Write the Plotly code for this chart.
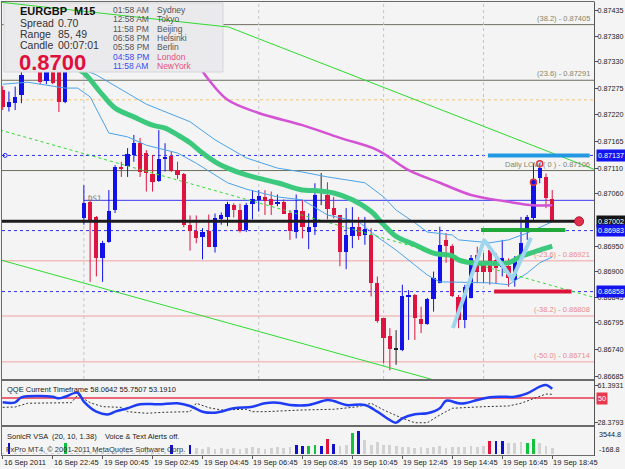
import plotly.graph_objects as go

W, H = 625, 469
FONT = "Liberation Sans"

# ---------------- price bars (EURGBP M15) ----------------
opens = [0.87271,0.87237,0.87244,0.87261,0.87316,0.87340,0.87330,0.87290,0.87318,0.87310,
         0.87247,0.87320,0.87325,0.87009,0.87042,0.87011,0.86926,0.86960,0.87025,0.87114,
         0.87115,0.87138,0.87163,0.87142,0.87099,0.87085,0.87130,0.87136,0.87107,0.87099,
         0.86995,0.86983,0.86969,0.86982,0.86949,0.87006,0.87011,0.87035,0.87025,0.86984,
         0.87037,0.87046,0.87052,0.87047,0.87039,0.87041,0.87020,0.86981,0.87023,0.86981,
         0.86991,0.87062,0.87056,0.87029,0.87014,0.86940,0.86972,0.86990,0.86974,0.86975,
         0.86875,0.86803,0.86767,0.86740,0.86738,0.86847,0.86852,0.86802,0.86792,0.86842,
         0.86876,0.86964,0.86951,0.86847,0.86800,0.86844,0.86933,0.86916,0.86943,0.86923,
         0.86909,0.86910,0.86882,0.86926,0.86984,0.87008,0.87090,0.87092,0.87047]
highs = [0.87279,0.87268,0.87278,0.87312,0.87350,0.87355,0.87340,0.87330,0.87325,0.87318,
         0.87325,0.87330,0.87332,0.87076,0.87046,0.87013,0.86962,0.87066,0.87117,0.87124,
         0.87152,0.87179,0.87173,0.87148,0.87138,0.87189,0.87162,0.87145,0.87124,0.87101,
         0.87014,0.87014,0.86988,0.87016,0.87018,0.87020,0.87042,0.87039,0.87038,0.87040,
         0.87066,0.87066,0.87066,0.87063,0.87057,0.87047,0.87025,0.87057,0.87046,0.87018,
         0.87080,0.87101,0.87082,0.87052,0.87015,0.87029,0.87031,0.87011,0.87011,0.86988,
         0.86889,0.86804,0.86783,0.86779,0.86872,0.86861,0.86853,0.86827,0.86845,0.86899,
         0.86991,0.86978,0.86955,0.86851,0.86872,0.86933,0.86950,0.86937,0.86950,0.86937,
         0.86964,0.86926,0.86931,0.87011,0.87015,0.87121,0.87121,0.87100,0.87066]
lows = [0.87230,0.87227,0.87230,0.87244,0.87312,0.87315,0.87283,0.87283,0.87283,0.87226,
        0.87244,0.87315,0.87312,0.86995,0.86878,0.86889,0.86878,0.86958,0.87019,0.87093,
        0.87093,0.87124,0.87093,0.87063,0.87063,0.87083,0.87104,0.87103,0.87089,0.86990,
        0.86942,0.86957,0.86924,0.86949,0.86938,0.86995,0.86992,0.87010,0.86979,0.86980,
        0.87006,0.87022,0.87015,0.87015,0.87033,0.87017,0.86964,0.86967,0.86967,0.86945,
        0.86974,0.87035,0.87006,0.87008,0.86910,0.86904,0.86947,0.86964,0.86954,0.86848,
        0.86794,0.86711,0.86697,0.86708,0.86736,0.86759,0.86759,0.86773,0.86790,0.86817,
        0.86875,0.86917,0.86847,0.86783,0.86783,0.86844,0.86875,0.86875,0.86872,0.86875,
        0.86889,0.86868,0.86868,0.86925,0.86964,0.87005,0.87080,0.87029,0.87002]
closes = [0.87236,0.87247,0.87256,0.87302,0.87340,0.87325,0.87288,0.87322,0.87285,0.87247,
          0.87320,0.87325,0.87318,0.87040,0.87005,0.86926,0.86958,0.87023,0.87114,0.87111,
          0.87140,0.87163,0.87104,0.87101,0.87082,0.87129,0.87134,0.87105,0.87097,0.86995,
          0.86982,0.86968,0.86981,0.86950,0.87008,0.87015,0.87038,0.87025,0.86982,0.87035,
          0.87048,0.87054,0.87044,0.87035,0.87042,0.87018,0.86982,0.87025,0.86990,0.86990,
          0.87056,0.87062,0.87027,0.87015,0.86940,0.86974,0.86990,0.86972,0.86986,0.86875,
          0.86798,0.86762,0.86740,0.86740,0.86848,0.86851,0.86803,0.86792,0.86842,0.86885,
          0.86954,0.86951,0.86848,0.86800,0.86867,0.86926,0.86899,0.86899,0.86899,0.86906,
          0.86926,0.86885,0.86926,0.86957,0.87011,0.87088,0.87111,0.87049,0.87002]

time_tick_idx = [0, 8, 16, 24, 32, 40, 48, 56, 64, 72, 80, 88]
time_tick_text = ["16 Sep 2011", "16 Sep 22:45", "19 Sep 00:45", "19 Sep 02:45", "19 Sep 04:45",
                  "19 Sep 06:45", "19 Sep 08:45", "19 Sep 10:45", "19 Sep 12:45", "19 Sep 14:45",
                  "19 Sep 16:45", "19 Sep 18:45"]
price_ticks = [0.87435, 0.87380, 0.87330, 0.87275, 0.87220, 0.87165, 0.87110, 0.87060,
               0.86950, 0.86900, 0.86845, 0.86795, 0.86740, 0.86685]

# ---------------- indicators ----------------
ma_idx = [11, 13, 16, 18, 21, 24, 26, 28, 30, 32, 34, 36, 39, 42, 44, 48, 50, 53, 56, 59,
          61, 63, 66, 69, 72, 73, 75, 78, 81, 83, 86, 88]
ma_val = [0.87322, 0.87306, 0.87261, 0.87234, 0.87216, 0.87199, 0.87193, 0.87179, 0.87163,
          0.87142, 0.87124, 0.87111, 0.87097, 0.87087, 0.87081, 0.87066, 0.87065, 0.87060,
          0.87046, 0.87022, 0.86995, 0.86971, 0.86954, 0.86937, 0.86931, 0.86923, 0.86917,
          0.86916, 0.86917, 0.86930, 0.86943, 0.86951]
band_up_idx = [12, 15, 23, 30, 34, 39, 44, 48, 52, 58, 61, 63, 66, 68, 72, 73, 78, 81, 84, 86, 88]
band_up_val = [0.87318, 0.87302, 0.87242, 0.87206, 0.87169, 0.87132, 0.87111, 0.87103, 0.87093,
               0.87081, 0.87052, 0.87025, 0.86999, 0.86980, 0.86974, 0.86964, 0.86958, 0.86964,
               0.86978, 0.86990, 0.87001]
band_lo_idx = [0, 4, 8, 10, 12, 14, 17, 20, 23, 28, 31, 34, 36, 39, 44, 48, 52, 57, 60, 63,
               66, 68, 70, 75, 78, 81, 84, 86, 88]
band_lo_val = [0.87283, 0.87287, 0.87279, 0.87275, 0.87275, 0.87257, 0.87183, 0.87175, 0.87158,
               0.87142, 0.87121, 0.87097, 0.87081, 0.87068, 0.87052, 0.87046, 0.87015, 0.87001,
               0.86970, 0.86943, 0.86913, 0.86892, 0.86878, 0.86876, 0.86876, 0.86872, 0.86896,
               0.86917, 0.86929]
slow_ma_idx = [30, 33, 36, 41, 48, 54, 60, 65, 70, 75, 81, 85, 88]
slow_ma_val = [0.87349, 0.87292, 0.87251, 0.87224, 0.87199, 0.87173, 0.87148, 0.87107, 0.87081,
               0.87056, 0.87042, 0.87035, 0.87035]

qqe_idx = [0, 2, 3, 6, 8, 9, 10, 12, 13, 15, 17, 18, 20, 22, 25, 28, 30, 32, 34, 37, 40, 42,
           44, 46, 49, 52, 53, 55, 58, 60, 62, 63, 64, 66, 68, 70, 71, 73, 74, 76, 78, 80, 82,
           84, 86, 87, 88]
qqe_val = [46.2, 46.2, 50.6, 51.8, 51.1, 49.7, 51.1, 54.6, 46.8, 38.0, 35.7, 38.0, 41.0, 44.5,
           44.5, 45.4, 43.0, 38.0, 37.1, 41.0, 42.4, 45.4, 45.9, 43.9, 43.9, 48.2, 47.4, 43.9,
           43.9, 38.0, 30.7, 28.4, 32.2, 35.7, 36.6, 41.0, 47.6, 45.4, 45.4, 48.2, 50.6, 51.1,
           51.1, 54.1, 59.9, 61.4, 58.1]
qqe_sig_idx = [0, 2, 4, 11, 12, 14, 16, 19, 20, 23, 26, 30, 31, 33, 35, 39, 40, 42, 48, 53, 57,
               59, 61, 64, 66, 68, 70, 72, 77, 81, 83, 85, 87, 88]
qqe_sig_val = [41.8, 42.1, 45.4, 45.9, 52.6, 45.9, 42.4, 41.8, 38.0, 36.6, 37.5, 38.0, 45.4, 41.5,
               39.5, 40.1, 38.0, 38.0, 39.5, 40.1, 42.4, 45.4, 39.5, 32.2, 28.3, 28.3, 35.1, 41.0,
               42.4, 43.0, 45.4, 49.7, 53.5, 53.2]
qqe_level = 50

vsa_vol = [90, 1700, 110, 80, 100, 120, 90, 100, 110, 130,
           1650, 80, 90, 150, 180, 170, 140, 130, 160, 140,
           150, 130, 140, 160, 150, 130, 150, 1300, 120, 110,
           1300, 900, 800, 1000, 750, 850, 700, 950, 800, 900,
           1050, 850, 750, 950, 1000, 900, 1100, 1360, 1206, 1206,
           1360, 1206, 2230, 1512, 1200, 1360, 3239, 3545, 2100, 1350,
           1850, 1300, 1400, 1250, 1100, 1000, 950, 1050, 900, 1000,
           1150, 950, 1050, 1100, 1000, 1200, 1050, 1150, 1970, 1970,
           1970, 1700, 1650, 1750, 1710, 2230, 1660, 1200, 900]
vsa_kind = (["n", "b"] + ["n"] * 8 + ["g"] + ["n"] * 16 + ["b", "n", "n", "b"] + ["n"] * 16 +
            ["b", "b", "g", "g", "b", "r", "b", "n", "n", "g", "b"] + ["n"] * 20 +
            ["r", "b", "b", "n", "n", "n", "g", "g", "n", "n", "n"])

# ---------------- chart objects ----------------
fib_levels = [0.87405, 0.87291, 0.87106, 0.86921, 0.86808, 0.86714]
fib_names = ["(38.2)", "(23.6)", "Daily LOW ( 0 )", "(-23.6)", "(-38.2)", "(-50.0)"]
blue_levels = [0.87137, 0.86983, 0.86858]
bid_price = 0.87002
ds1_price, ds1_start = 0.87045, 13
orange_level = 0.87251
session_idx = [13, 41, 61, 77]
trend_a_idx, trend_a_val = [-0.4, 36.2], [0.87451, 0.87400]
trend_b_idx, trend_b_val = [36.2, 95.0], [0.87400, 0.87107]
trend_mid_idx, trend_mid_val = [-0.4, 95.0], [0.87189, 0.86845]
trend_low_idx, trend_low_val = [-0.4, 95.0], [0.86923, 0.86585]
zz_idx, zz_val = [72.1, 77.1, 81.6, 84.6], [0.86783, 0.86964, 0.86884, 0.86968]
res_seg_idx, res_seg_val = [77.7, 94.0], [0.87137, 0.87137]
grn_seg_idx, grn_seg_val = [76.6, 90.1], [0.86984, 0.86984]
red_seg_idx, red_seg_val = [78.7, 91.1], [0.86858, 0.86858]
arrow_idx, arrow_val = [86, 85], [0.87120, 0.87082]
bid_end_idx = 92.3

# ---------------- layout helpers (pixels -> paper) ----------------
def PX(x):
    return x / W

def PY(y):
    return 1 - y / H

UP, DN, DOJI = "#1212E8", "#DE1440", "#222222"
X_RANGE = [-0.11, 94.69]

fig = go.Figure()

# candles
groups = {"up": ([], [], []), "dn": ([], [], []), "dj": ([], [], [])}
wicks = {"up": ([], []), "dn": ([], []), "dj": ([], [])}
for i, (o, h, l, c) in enumerate(zip(opens, highs, lows, closes)):
    k = "up" if c > o else ("dn" if c < o else "dj")
    base = min(o, c)
    size = abs(c - o)
    if size < 0.000014:
        base -= 0.000007
        size = 0.000014
    groups[k][0].append(i)
    groups[k][1].append(size)
    groups[k][2].append(base)
    wicks[k][0].extend([i, i, None])
    wicks[k][1].extend([l, h, None])
for k, col in (("up", UP), ("dn", DN), ("dj", DOJI)):
    fig.add_trace(go.Scatter(x=wicks[k][0], y=wicks[k][1], mode="lines",
                             line=dict(color=col, width=1), hoverinfo="skip"))
    fig.add_trace(go.Bar(x=groups[k][0], y=groups[k][1], base=groups[k][2], width=0.68,
                         marker=dict(color=col, line=dict(width=0)), hoverinfo="skip"))

# indicators on price
fig.add_trace(go.Scatter(x=band_up_idx, y=band_up_val, mode="lines",
                         line=dict(color="#4BA3EA", width=1), hoverinfo="skip"))
fig.add_trace(go.Scatter(x=band_lo_idx, y=band_lo_val, mode="lines",
                         line=dict(color="#4BA3EA", width=1), hoverinfo="skip"))
fig.add_trace(go.Scatter(x=slow_ma_idx, y=slow_ma_val, mode="lines", line_shape="spline",
                         line=dict(color="#D452D4", width=2.5), hoverinfo="skip"))
fig.add_trace(go.Scatter(x=ma_idx, y=ma_val, mode="lines", line_shape="spline",
                         line=dict(color="#3CC97E", width=5), hoverinfo="skip"))

# trend lines
fig.add_trace(go.Scatter(x=trend_mid_idx, y=trend_mid_val, mode="lines",
                         line=dict(color="#2EDB2E", width=1, dash="3px,3px"), hoverinfo="skip"))
fig.add_trace(go.Scatter(x=trend_low_idx, y=trend_low_val, mode="lines",
                         line=dict(color="#2EDB2E", width=1), hoverinfo="skip"))
fig.add_trace(go.Scatter(x=trend_b_idx, y=trend_b_val, mode="lines",
                         line=dict(color="#2EDB2E", width=1), hoverinfo="skip"))

# drawn objects
fig.add_trace(go.Scatter(x=res_seg_idx, y=res_seg_val, mode="lines",
                         line=dict(color="#2398E2", width=4), hoverinfo="skip"))
fig.add_trace(go.Scatter(x=grn_seg_idx, y=grn_seg_val, mode="lines",
                         line=dict(color="#20A838", width=4), hoverinfo="skip"))
fig.add_trace(go.Scatter(x=red_seg_idx, y=red_seg_val, mode="lines",
                         line=dict(color="#DC143C", width=4), hoverinfo="skip"))
fig.add_trace(go.Scatter(x=zz_idx, y=zz_val, mode="lines",
                         line=dict(color="#9FD6EE", width=4), hoverinfo="skip"))
fig.add_trace(go.Scatter(x=[-0.11, bid_end_idx], y=[bid_price, bid_price], mode="lines",
                         line=dict(color="#1C1C1C", width=3), hoverinfo="skip"))
fig.add_trace(go.Scatter(x=[bid_end_idx], y=[bid_price], mode="markers",
                         marker=dict(color="#E2304A", size=9, line=dict(color="#B01030", width=1)),
                         hoverinfo="skip"))
fig.add_trace(go.Scatter(x=arrow_idx, y=arrow_val, mode="markers",
                         marker=dict(color="rgba(0,0,0,0)", size=6, line=dict(color="#E0303C", width=1.5)),
                         hoverinfo="skip"))
fig.add_trace(go.Scatter(x=[0.4], y=[blue_levels[0]], mode="markers",
                         marker=dict(color="rgba(0,0,0,0)", size=4, line=dict(color="#2020F0", width=1)),
                         hoverinfo="skip"))

# QQE panel
fig.add_trace(go.Scatter(x=qqe_sig_idx, y=qqe_sig_val, mode="lines", yaxis="y2",
                         line=dict(color="#333333", width=1, dash="2px,2px"), hoverinfo="skip"))
fig.add_trace(go.Scatter(x=qqe_idx, y=qqe_val, mode="lines", yaxis="y2", line_shape="spline",
                         line=dict(color="#1E3CF5", width=2.5), hoverinfo="skip"))

# VSA panel
kind_col = {"n": "#D2D2D2", "b": "#1010C8", "r": "#E0143C", "g": "#12C23E"}
fig.add_trace(go.Bar(x=list(range(len(vsa_vol))), y=vsa_vol, yaxis="y3", width=0.45,
                     marker=dict(color=[kind_col[k] for k in vsa_kind], line=dict(width=0)),
                     hoverinfo="skip"))

# ---------------- shapes ----------------
shapes = []
for lv, nm in zip(fib_levels, fib_names):
    col = "#F2A0A0" if nm.startswith("(-") else "#6E6E5E"
    shapes.append(dict(type="line", xref="x domain", yref="y", x0=0, x1=1, y0=lv, y1=lv,
                       line=dict(color=col, width=1), layer="below"))
for lv in blue_levels:
    shapes.append(dict(type="line", xref="x domain", yref="y", x0=0, x1=1, y0=lv, y1=lv,
                       line=dict(color="#3030EE", width=1, dash="3px,3px"), layer="below"))
shapes.append(dict(type="line", xref="x domain", yref="y", x0=0, x1=1, y0=orange_level,
                   y1=orange_level, line=dict(color="#F5C27A", width=1, dash="dot"), layer="below"))
shapes.append(dict(type="line", xref="x", yref="y", x0=ds1_start, x1=X_RANGE[1], y0=ds1_price,
                   y1=ds1_price, line=dict(color="#3A3AF0", width=1), layer="below"))
for s in session_idx:
    shapes.append(dict(type="line", xref="x", yref="y domain", x0=s, x1=s, y0=0, y1=1,
                       line=dict(color="#C4C4CC", width=1, dash="dot"), layer="below"))
shapes.append(dict(type="line", xref="x", yref="y2", x0=X_RANGE[0], x1=X_RANGE[1], y0=qqe_level,
                   y1=qqe_level, line=dict(color="#E8384C", width=1.5), layer="below"))
# info panel
shapes.append(dict(type="rect", xref="paper", yref="paper", x0=PX(4), x1=PX(223), y0=PY(72), y1=PY(3),
                   fillcolor="#EAEAED", line=dict(color="#D6D6DA", width=1), layer="above"))
shapes.append(dict(type="line", xref="x", yref="y", x0=trend_a_idx[0], x1=trend_a_idx[1],
                   y0=trend_a_val[0], y1=trend_a_val[1], line=dict(color="#2EDB2E", width=1),
                   layer="above"))
# frames
FR = "#6A6A6A"
for yy, wd in ((1.5, 1), (380, 2), (426, 2), (455.5, 1)):
    shapes.append(dict(type="line", xref="paper", yref="paper", x0=PX(1), x1=PX(594), y0=PY(yy), y1=PY(yy),
                       line=dict(color=FR, width=wd), layer="above"))
shapes.append(dict(type="line", xref="paper", yref="paper", x0=PX(1.5), x1=PX(1.5), y0=PY(1.5), y1=PY(456),
                   line=dict(color=FR, width=1), layer="above"))
shapes.append(dict(type="line", xref="paper", yref="paper", x0=PX(594.5), x1=PX(594.5), y0=PY(1.5), y1=PY(456),
                   line=dict(color="#555555", width=1), layer="above"))

# ---------------- annotations ----------------
ann = []

def txt(t, x, y, size=7.5, color="#222222", xanchor="left", **kw):
    d = dict(text=t, x=PX(x), y=PY(y), xref="paper", yref="paper", showarrow=False,
             xanchor=xanchor, yanchor="middle", font=dict(family=FONT, size=size, color=color))
    d.update(kw)
    ann.append(d)

# info panel text
txt("<b>EURGBP</b>", 18, 11, 11, "#111111")
txt("<b>M15</b>", 72, 11, 11, "#111111")
for lab, val, yy in (("Spread", "0.70", 23.5), ("Range", "85, 49", 34), ("Candle", "00:07:01", 44.5)):
    txt(lab, 18, yy, 10.5, "#333333")
    txt(val, 56, yy, 10.5, "#333333")
txt("<b>0.8700</b>", 17, 62, 22, "#E0103C")
zones = [("01:58 AM", "Sydney"), ("12:58 AM", "Tokyo"), ("11:58 PM", "Beijing"),
         ("06:58 PM", "Helsinki"), ("05:58 PM", "Berlin"), ("04:58 PM", "London"),
         ("11:58 AM", "NewYork")]
for n, (tm, city) in enumerate(zones):
    yy = 10 + n * 9.35
    hot = city in ("London", "NewYork")
    txt(tm, 111, yy, 8.5, "#3B4CF0" if hot else "#555555")
    txt(city, 155, yy, 8.5, "#E4507A" if hot else "#555555")

# fib labels
for lv, nm in zip(fib_levels, fib_names):
    col = "#EC8A8A" if nm.startswith("(-") else "#85856A"
    ann.append(dict(text=f"{nm} - {lv:.5f}", x=PX(592), y=lv, xref="paper", yref="y",
                    showarrow=False, xanchor="right", yanchor="bottom",
                    font=dict(family=FONT, size=7.5, color=col)))
ann.append(dict(text="DS1", x=ds1_start + 0.4, y=ds1_price, xref="x", yref="y", showarrow=False,
                xanchor="left", yanchor="middle", yshift=2,
                font=dict(family="DejaVu Sans Mono", size=7.5, color="#777777")))

# price boxes on the right axis
for lv, bg in ((blue_levels[0], "#1414F0"), (bid_price, "#151515"), (blue_levels[1], "#1414F0"),
               (blue_levels[2], "#1414F0")):
    ann.append(dict(text=f"{lv:.5f}", x=PX(595.5), y=lv, xref="paper", yref="y", showarrow=False,
                    xanchor="left", yanchor="middle", bgcolor=bg, borderpad=1,
                    font=dict(family=FONT, size=7.2, color="#FFFFFF")))
ann.append(dict(text=str(qqe_level), x=PX(596), y=qqe_level, xref="paper", yref="y2", showarrow=False,
                xanchor="left", yanchor="middle", bgcolor="#E8384C", borderpad=1,
                font=dict(family=FONT, size=7.2, color="#FFFFFF")))

# panel titles
txt("QQE Current Timeframe 58.0642 55.7507 53.1910", 5, 389.5)
txt("SonicR VSA  (20, 10, 1.38)    Voice & Text Alerts off.", 5, 436)
txt("FxPro MT4, © 2001-2011 MetaQuotes Software Corp.", 4, 449.5, 7.5, "#333333")
txt("3544.8", 597, 434, 7.2)
txt("-168.8", 597, 449, 7.2)

# time labels (left aligned at tick, MT4 style)
for ti, tt in zip(time_tick_idx, time_tick_text):
    ann.append(dict(text=tt, x=ti, y=PY(462.5), xref="x", yref="paper", showarrow=False,
                    xanchor="left", yanchor="middle", xshift=-1,
                    font=dict(family=FONT, size=7.5, color="#222222")))

axfont = dict(family=FONT, size=7.2, color="#222222")
fig.update_layout(
    width=W, height=H, margin=dict(l=0, r=0, t=0, b=0),
    paper_bgcolor="#F4F4F4", plot_bgcolor="#F4F4F4",
    showlegend=False, barmode="overlay", bargap=0,
    shapes=shapes, annotations=ann,
    xaxis=dict(domain=[PX(2), PX(594)], range=X_RANGE, anchor="y3", showgrid=False, zeroline=False,
               tickvals=time_tick_idx, ticks="outside", ticklen=3, tickcolor="#555555",
               showticklabels=False, showline=False, fixedrange=True),
    yaxis=dict(domain=[PY(379), PY(2)], range=[0.866789, 0.874514], side="right", anchor="x",
               showgrid=False, zeroline=False, tickvals=price_ticks,
               ticktext=[f"{v:.5f}" for v in price_ticks], ticks="outside", ticklen=3,
               tickcolor="#555555", tickfont=axfont, ticklabelstandoff=-2, showline=False,
               automargin=False),
    yaxis2=dict(domain=[PY(425), PY(381)], range=[26.32, 64.91], side="right", anchor="x",
                showgrid=False, zeroline=False, tickvals=[61.3931, 28.3793],
                ticktext=["61.3931", "28.3793"], ticks="outside", ticklen=3, tickcolor="#555555",
                tickfont=axfont, ticklabelstandoff=-2, automargin=False),
    yaxis3=dict(domain=[PY(455), PY(427)], range=[-168.8, 4109.6], side="right", anchor="x",
                showgrid=False, zeroline=False, showticklabels=False, ticks="", automargin=False),
)

fig.write_html("out.html", config={"displayModeBar": False})
